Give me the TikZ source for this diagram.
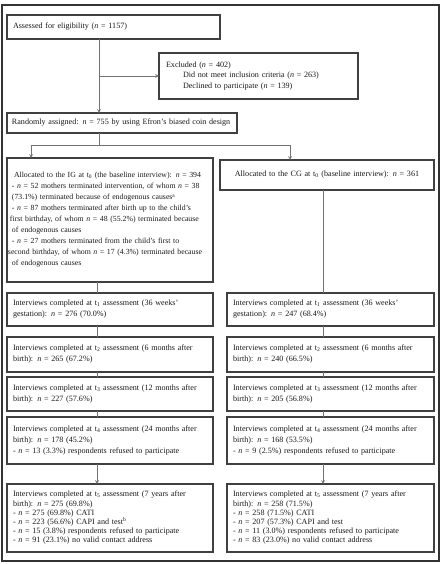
\documentclass[tikz,border=0pt]{standalone}
\usepackage{fontspec}
\setmainfont{Liberation Serif}
\usepackage{xcolor}
\usepackage{tikz}
\usetikzlibrary{arrows}
\usetikzlibrary{positioning}
\usetikzlibrary{calc}
\hyphenpenalty=10000
\exhyphenpenalty=10000

\begin{document}
\begin{tikzpicture}
	\tikzstyle{every node}=[inner sep=0pt,outer sep=0pt,text=black!90,font=\fontsize{8.1}{11}\selectfont]
	\tikzstyle{box}=[draw=black!75,line width=1.1pt,inner xsep=6pt,align=left,anchor=north west]
	\tikzstyle{igbox}=[box,text width=194pt,minimum width=206pt]
	\tikzstyle{cgbox}=[box,text width=195pt,minimum width=207pt]
	\tikzstyle{link}=[draw=black!55,line width=0.7pt,>=stealth]

	\useasboundingbox (0,0) rectangle (441pt,-564pt);
	\draw[black!80,line width=2pt] (2pt,-5pt) rectangle (439pt,-561pt);

	% enrolment
	\node (ass) [box,text width=201pt,minimum width=213pt,minimum height=24pt] at (7pt,-15pt) {Assessed for eligibility (\textit{n} = 1157)};
	\node (excl) [below=14pt of ass.south west,xshift=152pt,box,inner xsep=7pt,text width=185pt,minimum width=199pt,minimum height=46pt,font=\fontsize{8.1}{10.5}\selectfont]
		{Excluded (\textit{n} = 402)\\
		\hspace*{17pt}Did not meet inclusion criteria (\textit{n} = 263)\\
		\hspace*{17pt}Declined to participate (\textit{n} = 139)};
	\node (rand) [below=74pt of ass.south west,box,inner xsep=5pt,text width=220pt,minimum width=230pt,minimum height=20pt] {Randomly assigned: \textit{n} = 755 by using Efron's biased coin design};

	% allocation
	\node (ig0) [below=25pt of rand.south west,igbox,inner xsep=5pt,text width=196pt,minimum height=124pt,font=\fontsize{7.8}{11}\selectfont]
		{\mbox{\hspace*{2pt}Allocated to the IG at t\textsubscript{0} (the baseline interview): \textit{n} = 394}\\
		- \textit{n} = 52 mothers terminated intervention, of whom \textit{n} = 38\\
		(73.1\%) terminated because of endogenous causes\textsuperscript{a}\\
		- \textit{n} = 87 mothers terminated after birth up to the child's\\
		\mbox{\hspace*{-2pt}first birthday, of whom \textit{n} = 48 (55.2\%) terminated because}\\
		of endogenous causes\\
		- \textit{n} = 27 mothers terminated from the child's first to\\
		\mbox{\hspace*{-4pt}second birthday, of whom \textit{n} = 17 (4.3\%) terminated because}\\
		of endogenous causes};
	\node (cg0) [right=7pt of ig0.north east,yshift=-2pt,box,align=center,text width=202pt,minimum width=214pt,minimum height=30pt]
		{Allocated to the CG at t\textsubscript{0} (baseline interview): \textit{n} = 361};

	% follow-up
	\node (ig1) [below=11pt of ig0.south west,igbox,minimum height=33pt]
		{Interviews completed at t\textsubscript{1} assessment (36 weeks'\\ gestation): \textit{n} = 276 (70.0\%)};
	\node (cg1) [right=14pt of ig1.north east,cgbox,minimum height=33pt]
		{Interviews completed at t\textsubscript{1} assessment (36 weeks'\\ gestation): \textit{n} = 247 (68.4\%)};
	\node (ig2) [below=11pt of ig1.south west,igbox,minimum height=35pt]
		{Interviews completed at t\textsubscript{2} assessment (6 months after\\ birth): \textit{n} = 265 (67.2\%)};
	\node (cg2) [right=14pt of ig2.north east,cgbox,minimum height=35pt]
		{Interviews completed at t\textsubscript{2} assessment (6 months after\\ birth): \textit{n} = 240 (66.5\%)};
	\node (ig3) [below=5pt of ig2.south west,igbox,minimum height=34pt]
		{Interviews completed at t\textsubscript{3} assessment (12 months after\\ birth): \textit{n} = 227 (57.6\%)};
	\node (cg3) [right=14pt of ig3.north east,cgbox,minimum height=34pt]
		{Interviews completed at t\textsubscript{3} assessment (12 months after\\ birth): \textit{n} = 205 (56.8\%)};
	\node (ig4) [below=6pt of ig3.south west,igbox,minimum height=47pt]
		{Interviews completed at t\textsubscript{4} assessment (24 months after\\ birth): \textit{n} = 178 (45.2\%)\\
		- \textit{n} = 13 (3.3\%) respondents refused to participate};
	\node (cg4) [right=14pt of ig4.north east,cgbox,minimum height=47pt]
		{Interviews completed at t\textsubscript{4} assessment (24 months after\\ birth): \textit{n} = 168 (53.5\%)\\
		- \textit{n} = 9 (2.5\%) respondents refused to participate};
	\node (ig5) [below=20pt of ig4.south west,igbox,minimum height=68pt,font=\fontsize{8.1}{9.2}\selectfont]
		{Interviews completed at t\textsubscript{5} assessment (7 years after\\ birth): \textit{n} = 275 (69.8\%)\\
		- \textit{n} = 275 (69.8\%) CATI\\
		- \textit{n} = 223 (56.6\%) CAPI and test\textsuperscript{b}\\
		- \textit{n} = 15 (3.8\%) respondents refused to participate\\
		- \textit{n} = 91 (23.1\%) no valid contact address};
	\node (cg5) [right=14pt of ig5.north east,cgbox,minimum height=68pt,font=\fontsize{8.1}{9.2}\selectfont]
		{Interviews completed at t\textsubscript{5} assessment (7 years after\\ birth): \textit{n} = 258 (71.5\%)\\
		- \textit{n} = 258 (71.5\%) CATI\\
		- \textit{n} = 207 (57.3\%) CAPI and test\\
		- \textit{n} = 11 (3.0\%) respondents refused to participate\\
		- \textit{n} = 83 (23.0\%) no valid contact address};

	% connectors
	\coordinate (trunk) at ([xshift=92pt]ass.south west);
	\coordinate (fork) at ([xshift=92pt,yshift=-12pt]rand.south west);
	\coordinate (igx) at ([xshift=90pt]ig1.north west);
	\coordinate (cgx) at ([xshift=96pt]cg1.north west);

	\draw[link,->] (trunk) -- (trunk |- rand.north);
	\draw[link,->] (trunk |- excl.west) -- (excl.west);
	\draw[link] (rand.south -| trunk) -- (fork);
	\draw[link,->] (fork) -| ([xshift=24pt]ig0.north west);
	\draw[link,->] (fork) -| ([xshift=70pt]cg0.north west);

	\foreach \a/\b in {ig0/ig1,ig1/ig2,ig2/ig3,ig3/ig4}
		\draw[link] (\a.south -| igx) -- (\b.north -| igx);
	\foreach \a/\b in {cg0/cg1,cg1/cg2,cg2/cg3,cg3/cg4}
		\draw[link] (\a.south -| cgx) -- (\b.north -| cgx);
	\draw[link,->] (ig4.south -| igx) -- (ig5.north -| igx);
	\draw[link,->] (cg4.south -| cgx) -- (cg5.north -| cgx);
\end{tikzpicture}
\end{document}
